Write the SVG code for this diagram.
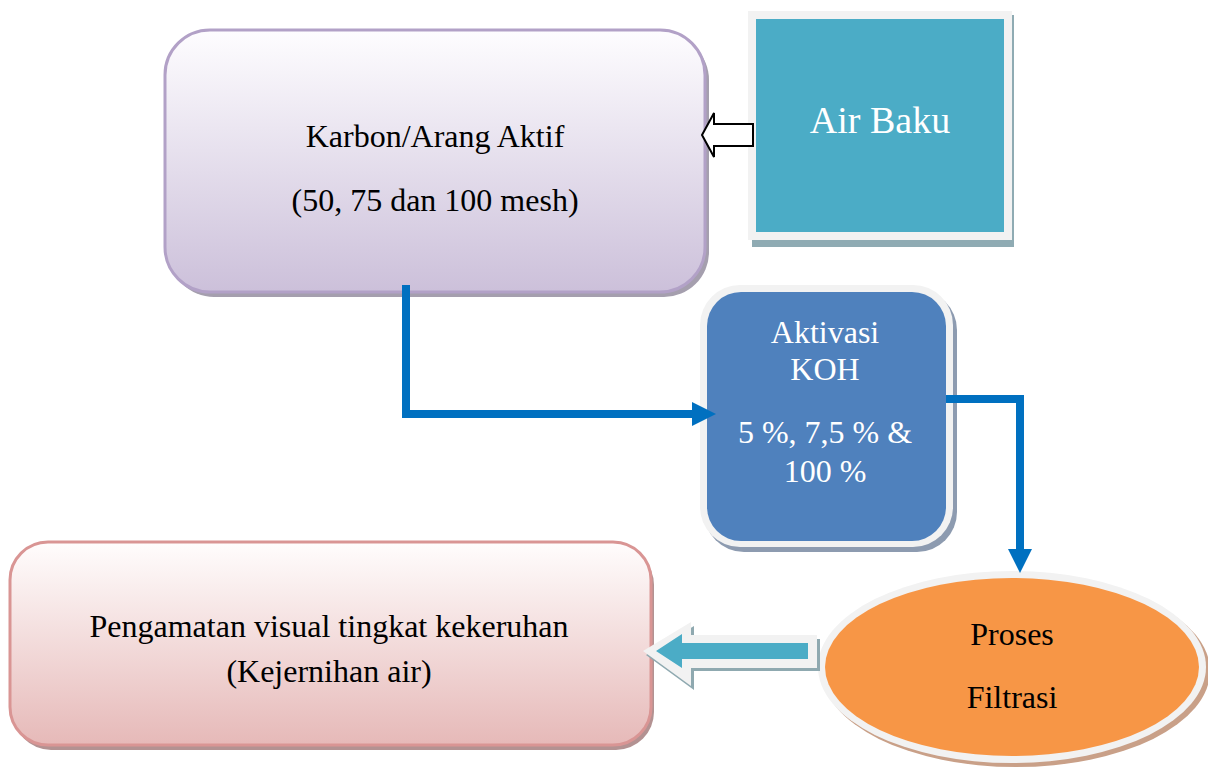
<svg xmlns="http://www.w3.org/2000/svg" width="1208" height="769" viewBox="0 0 1208 769">
<defs>
<style>
text{font-family:"Liberation Serif","Times New Roman",serif;text-anchor:middle}
.dark{fill:#000}
.light{fill:#fff}
.conn{fill:none;stroke:#0070c0;stroke-width:8}
</style>
<linearGradient id="gPurple" x1="0" y1="0" x2="0" y2="1">
<stop offset="0" stop-color="#fefdff"/>
<stop offset="1" stop-color="#ccc0da"/>
</linearGradient>
<linearGradient id="gPink" x1="0" y1="0" x2="0" y2="1">
<stop offset="0" stop-color="#fffdfd"/>
<stop offset="1" stop-color="#e6b9b8"/>
</linearGradient>
<marker id="ah" markerUnits="userSpaceOnUse" markerWidth="24" markerHeight="24" refX="0" refY="12" orient="auto" viewBox="0 0 24 24">
<path d="M0,0 L24,12 L0,24 z" fill="#0070c0"/>
</marker>
</defs>
<rect width="1208" height="769" fill="#fff"/>

<g id="node-karbon">
<rect x="169" y="35" width="540" height="262" rx="45" fill="#a59fae"/>
<rect x="165" y="30" width="540" height="262" rx="45" fill="url(#gPurple)" stroke="#b2a1c7" stroke-width="3"/>
<text class="dark" x="435" y="147" font-size="32">Karbon/Arang Aktif</text>
<text class="dark" x="435" y="211" font-size="32">(50, 75 dan 100 mesh)</text>
</g>

<g id="node-airbaku">
<rect x="752" y="15" width="262" height="232" fill="#8fabb3"/>
<rect x="748" y="11" width="264" height="229" fill="#f2f2f2"/>
<rect x="756" y="19" width="248" height="213" fill="#4bacc6"/>
<text class="light" x="880" y="133" font-size="38">Air Baku</text>
</g>

<g id="node-aktivasi">
<rect x="704" y="290" width="253" height="262" rx="40" fill="#8d9bb0"/>
<rect x="700" y="285" width="253" height="262" rx="40" fill="#f2f2f2"/>
<rect x="707" y="292" width="239" height="249" rx="34" fill="#4f81bd"/>
<text class="light" x="825" y="343" font-size="32">Aktivasi</text>
<text class="light" x="825" y="380" font-size="32">KOH</text>
<text class="light" x="825" y="443" font-size="32">5 %, 7,5 % &amp;</text>
<text class="light" x="825" y="482" font-size="32">100 %</text>
</g>

<g id="node-proses">
<ellipse cx="1016" cy="671" rx="194" ry="96" fill="#c9a088"/>
<ellipse cx="1012" cy="667" rx="194" ry="96" fill="#f2f2f2"/>
<ellipse cx="1012" cy="667" rx="187" ry="89" fill="#f79646"/>
<text class="dark" x="1012" y="645" font-size="32">Proses</text>
<text class="dark" x="1012" y="708" font-size="32">Filtrasi</text>
</g>

<g id="node-pengamatan">
<rect x="13" y="547" width="641" height="203" rx="38" fill="#b39292"/>
<rect x="10" y="542" width="641" height="203" rx="38" fill="url(#gPink)" stroke="#d99594" stroke-width="3"/>
<text class="dark" x="329" y="637" font-size="32">Pengamatan visual tingkat kekeruhan</text>
<text class="dark" x="329" y="682" font-size="32">(Kejernihan air)</text>
</g>

<g id="connectors">
<polyline class="conn" points="406,285 406,414 692,414" marker-end="url(#ah)"/>
<polyline class="conn" points="946,399 1020,399 1020,549" marker-end="url(#ah)"/>
<path d="M753,124 L714,124 L714,113 L702,135 L714,157 L714,146 L753,146 z" fill="#fff" stroke="#000" stroke-width="2"/>
<path d="M820,639 L694,639 L694,626 L646,655 L694,690 L694,671 L820,671 z" fill="#8fa9b0"/>
<path d="M817,635 L691,635 L691,622 L643,651 L691,686 L691,668 L817,668 z" fill="#f2f2f2"/>
<path d="M808,643 L682,643 L682,634 L656,651 L682,668 L682,659 L808,659 z" fill="#4bacc6"/>
</g>
</svg>
